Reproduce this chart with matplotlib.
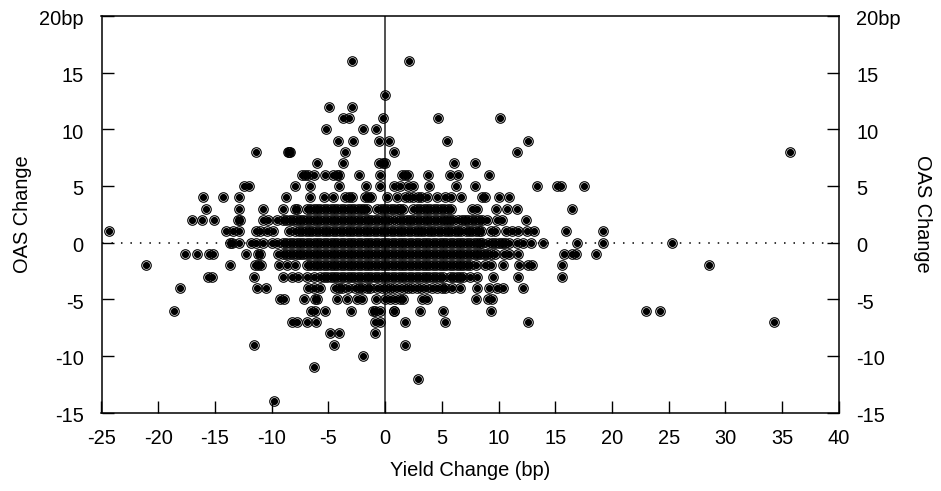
import matplotlib
matplotlib.use('Agg')
import matplotlib.pyplot as plt
from matplotlib.transforms import ScaledTranslation

plt.rcParams['font.family'] = ['Liberation Sans', 'DejaVu Sans']
plt.rcParams['axes.unicode_minus'] = False

# yield change readings for each OAS change level
rows = {
    16: [-2.93, 2.08],
    13: [-0.04],
    12: [-4.94, -2.94],
    11: [-3.67, -3.14, -0.21, 4.67, 10.11],
    10: [-5.23, -1.94, -0.82],
    9: [-4.14, -2.82, -0.53, 0.38, 5.49, 12.61],
    8: [-11.34, -8.6, -8.5, -8.4, -3.53, 0.76, 11.61, 35.7],
    7: [-6.02, -3.73, -0.53, -0.21, 0.0, 6.08, 7.9],
    6: [-7.3, -7.05, -6.8, -6.23, -5.32, -4.55, -4.26, -4.03, -2.32, -0.41, 1.5, 1.75, 2.0, 3.79, 5.72, 6.4, 9.19],
    5: [-12.4, -12.0, -7.93, -6.61, -4.03, -1.7, -0.42, 0.79, 1.32, 2.05, 2.49, 3.9, 6.28, 7.9, 13.39, 15.2, 15.5, 17.5],
    4: [-16.09, -14.25, -12.84, -8.72, -6.61, -5.35, -4.58, -3.5, -3.2, -2.95, -1.8, -1.5, -1.2, 0.15, 1.03,
        1.75, 2.1, 2.45, 2.9, 3.2, 3.67, 4.61, 5.3, 5.8, 6.69, 8.55, 8.85, 10.07, 10.89],
    3: [-15.77, -12.92, -10.72, -9.02, -7.9, -7.75, -6.9, -6.6, -6.3, -6.0, -5.7, -5.4, -5.1, -4.8, -4.5, -4.2, -3.9, -3.6, -3.3,
        -3.0, -2.7, -2.4, -2.1, -1.85, -1.6, -0.7, -0.4, -0.1, 0.2, 0.5, 0.8, 1.1, 1.35, 1.6, 2.45, 2.8, 3.1, 3.4, 3.7, 4.0, 4.3,
        4.6, 4.9, 5.2, 5.55, 5.85, 7.64, 8.08, 9.78, 10.77, 11.6, 16.47],
    2: [-17.03, -16.15, -15.09, -13.0, -12.8, -10.72, -10.28, -9.54, -8.96, -8.7, -8.4, -8.1, -7.8, -7.5, -7.2, -6.9, -6.6, -6.3,
        -6.0, -5.7, -5.4, -5.1, -4.8, -4.5, -4.2, -3.9, -3.6, -3.3, -3.0, -2.7, -2.4, -2.1, -1.8, -1.5, -1.2, -0.9, -0.6, -0.3, 0.0,
        0.3, 0.65, 0.95, 1.3, 1.6, 1.9, 2.2, 2.5, 2.8, 3.1, 3.4, 3.7, 4.0, 4.3, 4.6, 4.9, 5.2, 5.5, 5.75, 6.0, 6.45, 6.75, 7.05,
        7.35, 7.65, 7.95, 8.25, 8.55, 9.01, 9.9, 10.3, 12.39],
    1: [-24.35, -14.04, -13.39, -12.84, -11.4, -11.0, -10.4, -9.9, -8.43, -7.9, -7.6, -7.3, -7.0, -6.7, -6.4, -6.1, -5.8, -5.5,
        -5.2, -4.9, -4.6, -4.3, -4.0, -3.7, -3.4, -3.1, -2.8, -2.5, -2.2, -1.9, -1.6, -1.3, -1.0, -0.7, -0.4, -0.1, 0.2, 0.5, 0.8,
        1.1, 1.4, 1.7, 2.0, 2.3, 2.6, 2.9, 3.15, 3.4, 3.75, 4.05, 4.35, 4.65, 4.95, 5.25, 5.55, 5.85, 6.15, 6.45, 6.7, 7.1, 7.4,
        7.7, 8.0, 8.25, 8.5, 9.3, 9.7, 10.66, 11.16, 11.69, 12.48, 13.15, 15.91, 19.2],
    0: [-13.66, -13.51, -12.92, -11.8, -11.4, -10.75, -9.99, -9.54, -9.0, -8.7, -8.4, -8.1, -7.8, -7.5, -7.2, -6.9, -6.6, -6.3,
        -6.0, -5.7, -5.4, -5.1, -4.8, -4.5, -4.2, -3.9, -3.6, -3.3, -3.0, -2.7, -2.4, -2.1, -1.8, -1.5, -1.2, -0.9, -0.6, -0.3, 0.0,
        0.3, 0.6, 0.9, 1.2, 1.5, 1.8, 2.1, 2.4, 2.7, 3.0, 3.3, 3.6, 3.9, 4.2, 4.5, 4.8, 5.1, 5.4, 5.7, 6.0, 6.3, 6.6, 6.9, 7.2,
        7.5, 7.8, 8.1, 8.35, 8.55, 9.1, 9.4, 9.7, 10.0, 10.3, 10.6, 10.95, 11.6, 12.2, 12.9, 13.95, 16.94, 19.2, 25.31],
    -1: [-17.65, -16.56, -15.51, -15.13, -12.25, -11.2, -11.0, -9.4, -9.0, -8.7, -8.4, -8.1, -7.8, -7.5, -7.2, -6.9, -6.6, -6.3,
         -6.0, -5.7, -5.4, -5.1, -4.8, -4.5, -4.2, -3.9, -3.6, -3.3, -3.0, -2.7, -2.4, -2.1, -1.8, -1.5, -1.2, -0.9, -0.6, -0.3, 0.0,
         0.3, 0.6, 0.9, 1.2, 1.5, 1.8, 2.1, 2.4, 2.7, 3.0, 3.3, 3.6, 3.9, 4.2, 4.5, 4.8, 5.1, 5.4, 5.7, 6.0, 6.3, 6.6, 6.9, 7.2,
         7.5, 7.8, 8.1, 8.4, 8.7, 9.0, 9.3, 9.7, 10.5, 10.9, 11.71, 15.81, 16.5, 16.8, 18.61],
    -2: [-21.06, -13.71, -11.5, -11.2, -10.9, -9.39, -8.66, -7.93, -6.9, -6.6, -6.3, -6.0, -5.7, -5.4, -5.1, -4.8, -4.5, -4.2, -3.9,
         -3.6, -3.3, -3.0, -2.7, -2.4, -2.1, -1.8, -1.5, -1.2, -0.9, -0.6, -0.3, 0.0, 0.3, 0.6, 0.9, 1.2, 1.5, 1.8, 2.1, 2.4, 2.7,
         3.0, 3.3, 3.6, 3.9, 4.2, 4.5, 4.8, 5.1, 5.4, 5.7, 6.0, 6.3, 6.6, 6.9, 7.2, 7.5, 8.01, 8.81, 9.31, 10.41, 11.81, 12.6,
         12.96, 15.59, 28.6],
    -3: [-15.6, -15.3, -11.54, -8.96, -8.2, -7.7, -6.89, -6.29, -5.7, -5.4, -5.1, -4.8, -4.5, -4.2, -3.9, -3.6, -3.3, -3.0, -2.7,
         -2.4, -2.1, -1.8, -1.5, -1.2, -0.9, -0.6, -0.3, 0.0, 0.3, 0.6, 0.9, 1.2, 1.5, 1.8, 2.1, 2.4, 2.7, 3.0, 3.3, 3.6, 3.9, 4.2,
         4.5, 4.8, 5.1, 5.7, 6.0, 6.3, 6.6, 6.9, 7.51, 8.11, 9.51, 11.71, 15.59],
    -4: [-18.06, -11.29, -10.49, -6.76, -6.29, -5.73, -4.45, -4.1, -3.8, -3.25, -2.65, -2.3, -2.0, -1.6, -1.3, -0.75, -0.3, 0.1, 0.45, 0.8,
         1.2, 1.65, 2.05, 2.4, 2.8, 3.2, 3.6, 4.1, 4.6, 5.0, 5.3, 5.87, 6.61, 8.07, 9.19, 9.84, 10.37, 12.19],
    -5: [-9.3, -8.95, -7.11, -6.2, -6.0, -4.26, -3.38, -2.5, -2.06, -0.82, 0.0, 0.4, 0.9, 1.3, 1.6, 3.23, 3.67, 7.99, 9.05, 9.4],
    -6: [-18.6, -6.5, -6.2, -5.26, -3.02, -1.1, -0.85, -0.44, 0.76, 0.8, 3.08, 5.08, 9.31, 23.0, 24.2],
    -7: [-8.22, -7.8, -6.85, -6.11, -0.9, -0.44, 1.79, 5.28, 12.6, 34.3],
    -8: [-4.89, -4.04, -0.91],
    -9: [-11.54, -4.52, 1.79],
    -10: [-1.94],
    -11: [-6.31],
    -12: [2.88],
    -14: [-9.75],
}

x_ticks = [-25, -20, -15, -10, -5, 0, 5, 10, 15, 20, 25, 30, 35, 40]
y_ticks = [-15, -10, -5, 0, 5, 10, 15, 20]
y_labels = ['-15', '-10', '-5', '0', '5', '10', '15', '20bp']

xs = []
ys = []
for level, vals in rows.items():
    for v in vals:
        xs.append(v)
        ys.append(level)

fig = plt.figure(figsize=(9.41, 4.91), dpi=100)
ax = fig.add_axes([101.5 / 941, 1 - 412.8 / 491, (838.8 - 101.5) / 941, (412.8 - 16) / 491])

ax.axhline(0, color='black', lw=1.1, linestyle=(0, (1, 5.2)), zorder=1)
ax.axvline(0, color='#222222', lw=1.1, zorder=1)

# ring plus centre dot, overlaps go solid black
ax.plot(xs, ys, ls='none', marker='o', ms=6.85, mfc='none', mec='black', mew=0.8, zorder=3, clip_on=False)
ax.plot(xs, ys, ls='none', marker='o', ms=5.2, mfc='black', mec='none', zorder=3, clip_on=False)

ax.set_xlim(-25, 40)
ax.set_ylim(-15, 20)
ax.set_xticks(x_ticks)
ax.set_yticks(y_ticks)
ax.set_yticklabels(y_labels)
ax.tick_params(axis='x', direction='in', length=8.6, width=1, labelsize=14.4, pad=11.8)
ax.tick_params(axis='y', direction='in', length=8.6, width=1, labelsize=14.4, pad=12.7)
for s in ax.spines.values():
    s.set_linewidth(1.1)

ax2 = ax.twinx()
ax2.set_ylim(-15, 20)
ax2.set_yticks(y_ticks)
ax2.set_yticklabels(y_labels)
ax2.tick_params(axis='y', direction='in', length=8.6, width=1, labelsize=14.4, pad=12.7)
for s in ax2.spines.values():
    s.set_visible(False)

# y tick text sits a touch below its tick in the original
nudge = ScaledTranslation(0, -1.3 / 72, fig.dpi_scale_trans)
for label in ax.get_yticklabels() + ax2.get_yticklabels():
    label.set_transform(label.get_transform() + nudge)

fig.text(470 / 941, 1 - 471 / 491, 'Yield Change (bp)', fontsize=14.4, ha='center', va='center')
fig.text(23 / 941, 1 - 214 / 491, 'OAS Change', fontsize=14.4, rotation=90, ha='center', va='center')
fig.text(922.5 / 941, 1 - 214 / 491, 'OAS Change', fontsize=14.4, rotation=-90, ha='center', va='center')

fig.savefig('out.png', dpi=100)
